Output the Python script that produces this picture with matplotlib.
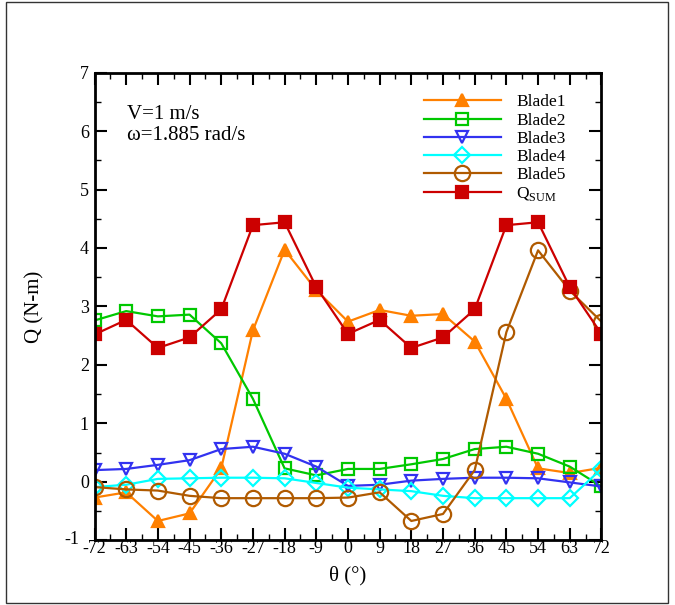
import matplotlib
matplotlib.use("Agg")
import matplotlib.pyplot as plt
from matplotlib.patches import Rectangle
from matplotlib.ticker import MultipleLocator
from matplotlib.transforms import ScaledTranslation

plt.rcParams['font.family'] = ['Liberation Serif', 'DejaVu Serif']
plt.rcParams['mathtext.fontset'] = 'custom'
plt.rcParams['mathtext.rm'] = 'Liberation Serif'
plt.rcParams['axes.unicode_minus'] = False

theta = [-72, -63, -54, -45, -36, -27, -18, -9, 0, 9, 18, 27, 36, 45, 54, 63, 72]
blade1 = [-0.27, -0.18, -0.67, -0.54, 0.23, 2.59, 3.97, 3.28, 2.74, 2.94, 2.84, 2.87, 2.40, 1.42, 0.23, 0.15, 0.24]
blade2 = [2.76, 2.92, 2.83, 2.86, 2.37, 1.42, 0.23, 0.11, 0.22, 0.22, 0.30, 0.39, 0.56, 0.60, 0.48, 0.26, -0.08]
blade3 = [0.20, 0.22, 0.29, 0.37, 0.56, 0.60, 0.48, 0.26, -0.07, -0.05, 0.02, 0.05, 0.07, 0.07, 0.06, -0.01, -0.08]
blade4 = [-0.09, -0.05, 0.05, 0.06, 0.07, 0.07, 0.06, -0.02, -0.10, -0.13, -0.16, -0.24, -0.28, -0.28, -0.28, -0.28, 0.22]
blade5 = [-0.09, -0.13, -0.15, -0.24, -0.28, -0.28, -0.28, -0.28, -0.27, -0.18, -0.67, -0.55, 0.20, 2.56, 3.96, 3.27, 2.74]
qsum = [2.52, 2.77, 2.29, 2.47, 2.95, 4.39, 4.44, 3.33, 2.53, 2.77, 2.29, 2.47, 2.95, 4.39, 4.44, 3.33, 2.53]

series = [
    ("Blade1", blade1, "#FF8000", "^", "#FF8000", 9),
    ("Blade2", blade2, "#00C800", "s", "none", 9),
    ("Blade3", blade3, "#3232F0", "v", "none", 9),
    ("Blade4", blade4, "#00FFFF", "D", "none", 8),
    ("Blade5", blade5, "#B05A00", "o", "none", 11),
    (r"Q$_{\mathrm{SUM}}$", qsum, "#CC0000", "s", "#CC0000", 9),
]

fig = plt.figure(figsize=(6.75, 6.05), dpi=100)
ax = fig.add_axes([0.140, 0.107, 0.751, 0.773])

for name, vals, col, mk, fc, ms in series:
    ax.plot(theta, vals, color=col, lw=1.6, marker=mk, markersize=ms,
            markerfacecolor=fc, markeredgecolor=col, markeredgewidth=1.6, label=name)

ax.set_xlim(-72, 72)
ax.set_ylim(-1, 7)
ax.set_xticks(theta)
ax.set_xticklabels([str(t) for t in theta])
ax.xaxis.set_minor_locator(MultipleLocator(4.5))
ax.yaxis.set_major_locator(MultipleLocator(1))
ax.yaxis.set_minor_locator(MultipleLocator(0.5))
ax.tick_params(which='both', direction='in', top=True, right=True, labelsize=13, width=1.5)
ax.tick_params(which='major', length=8.5)
ax.tick_params(axis='x', which='major', pad=0)
ax.tick_params(axis='y', which='major', pad=4)
ax.tick_params(which='minor', length=4.5, width=1.0)
for s in ax.spines.values():
    s.set_linewidth(2.0)

ax.set_xlabel("θ (°)", fontsize=15, labelpad=6)
ax.set_ylabel("Q (N-m)", fontsize=15, labelpad=14)

fig.canvas.draw()
for lab in ax.get_yticklabels():
    if lab.get_text() == "-1":
        lab.set_transform(lab.get_transform() + ScaledTranslation(-7/72, 2/72, fig.dpi_scale_trans))

ax.text(0.064, 0.888, "V=1 m/s\nω=1.885 rad/s", transform=ax.transAxes, fontsize=15,
        va='center', ha='left', linespacing=1.12)

leg = ax.legend(loc='upper right', bbox_to_anchor=(0.95, 0.976), frameon=False, fontsize=12.5,
                handlelength=4.4, handletextpad=0.9, labelspacing=0.12, borderaxespad=0.2)

fig.patches.append(Rectangle((6/675, 2/605), 662/675, 601/605, transform=fig.transFigure,
                             fill=False, edgecolor='#333333', lw=1.0))

fig.savefig("out.png", dpi=100)
